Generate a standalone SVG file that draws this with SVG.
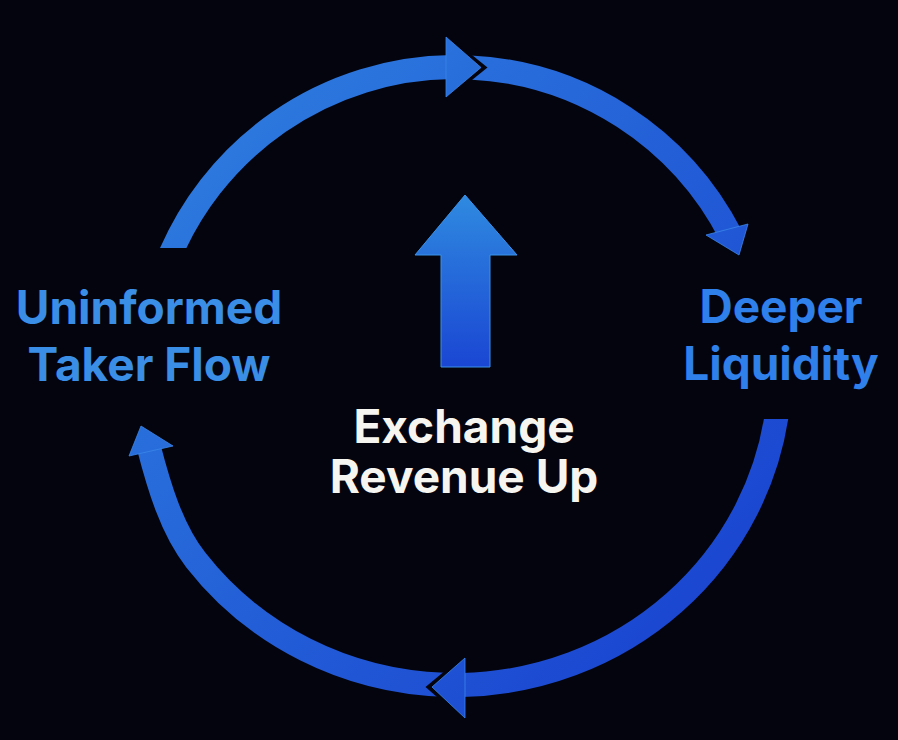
<svg xmlns="http://www.w3.org/2000/svg" width="898" height="740" viewBox="0 0 898 740">
<defs>
<linearGradient id="ring" gradientUnits="userSpaceOnUse" x1="150" y1="150" x2="700" y2="650">
<stop offset="0" stop-color="#2d7cdf"/>
<stop offset="1" stop-color="#1a44d0"/>
</linearGradient>
<linearGradient id="up" gradientUnits="userSpaceOnUse" x1="0" y1="195" x2="0" y2="367">
<stop offset="0" stop-color="#2f8ae0"/>
<stop offset="1" stop-color="#1a46d3"/>
</linearGradient>
<clipPath id="c1"><rect x="0" y="0" width="898" height="248"/></clipPath>
<clipPath id="c3"><rect x="0" y="419" width="898" height="321"/></clipPath>
<style>
.band{fill:none;stroke:url(#ring);stroke-width:24;stroke-linecap:butt}
.head{fill:url(#ring);stroke:#3a86ea;stroke-width:0.8;stroke-linejoin:miter}
.gap{fill:#04040f}
.lbl{font-family:Inter,"Liberation Sans",sans-serif;font-weight:700;font-size:46px;text-anchor:middle}
</style>
</defs>
<rect width="898" height="740" fill="#04040f"/>
<g id="connectors">
<path class="band" d="M470,67.4 A310,310 0 0 1 731.2,236.3"/>
<path class="band" d="M444,684.8 A325,315 0 0 1 195.8,560 C171.2,528.5 158.5,484.8 148.5,446"/>
<polygon class="gap" points="441,30 487.5,67.5 441,105"/>
<polygon class="gap" points="470,650 425.5,687 470,726"/>
<path class="band" clip-path="url(#c1)" d="M166,265 A310,310 0 0 1 452,67"/>
<path class="band" clip-path="url(#c3)" d="M778,405 A325,315 0 0 1 462,684.9"/>
<polygon class="head" points="446,37 481,67.5 446,97"/>
<polygon class="head" points="706,235 748,224 739,255"/>
<polygon class="head" points="465,658 432,687 465,718"/>
<polygon class="head" points="129,456 141,426 173,446"/>
</g>
<g id="uninformed-taker-flow">
<text class="lbl" fill="#3a8ee6" x="149" y="324" font-size="47">Uninformed</text>
<text class="lbl" fill="#3a8ee6" x="149" y="381" font-size="47">Taker Flow</text>
</g>
<g id="deeper-liquidity">
<text class="lbl" fill="#2f80ea" x="781" y="323">Deeper</text>
<text class="lbl" fill="#2f80ea" x="781" y="380">Liquidity</text>
</g>
<g id="exchange-revenue-up">
<polygon fill="url(#up)" stroke="#3a92ea" stroke-width="1" points="465,195 517,255 490,255 490,367 441,367 441,255 415,255"/>
<text class="lbl" fill="#f7f5f0" x="464" y="443">Exchange</text>
<text class="lbl" fill="#f7f5f0" x="464" y="493">Revenue Up</text>
</g>
</svg>
